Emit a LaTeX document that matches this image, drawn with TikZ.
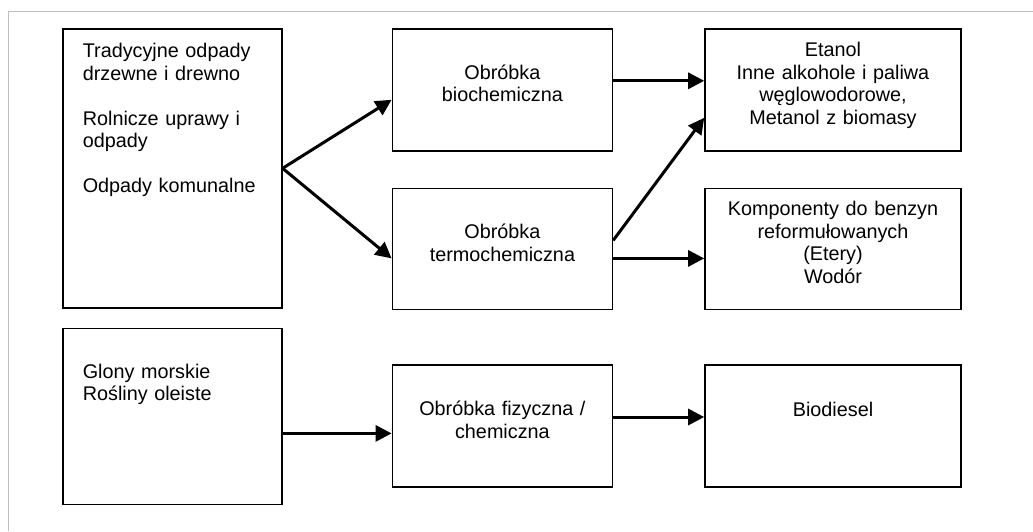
\documentclass[tikz,border=0pt]{standalone}
\usepackage{fontspec}
\setmainfont{Liberation Sans}
\usetikzlibrary{positioning,arrows.meta}

\tikzset{
  box/.style={draw, line width=1.6pt, inner xsep=0pt, inner ysep=0pt, align=center,
    font=\fontsize{19.8}{22.5}\selectfont},
  srcbox/.style={box, align=left, inner xsep=20pt, text width=179pt},
  midbox/.style={box, text width=220pt},
  outbox/.style={box, text width=256pt},
  flow/.style={line width=3pt, -{Triangle[length=16pt,width=16pt]}}
}

\begin{document}
\begin{tikzpicture}
		\useasboundingbox (0,0) rectangle (1033pt,-531pt);
		\draw[gray!50, line width=1pt] (8pt,-531pt) -- (8pt,-11pt) -- (1033pt,-11pt);
		
		\node[srcbox, text height=28.7pt, text depth=250.3pt, anchor=north west] (src1) at (62pt,-28pt)
		  {Tradycyjne odpady\\drzewne i drewno\\[22.5pt]Rolnicze uprawy i\\odpady\\[22.5pt]Odpady komunalne};
		\node[midbox, text height=50.5pt, text depth=71.5pt, below right=0pt and 109pt of src1.north east] (bio) {Obróbka\\biochemiczna};
		\node[outbox, text height=28pt, text depth=94pt, below right=0pt and 91pt of bio.north east] (fuel1)
		  {Etanol\\Inne alkohole i paliwa\\węglowodorowe,\\Metanol z biomasy};
		\node[midbox, text height=50.5pt, text depth=70.5pt, below=36pt of bio] (thermo) {Obróbka\\termochemiczna};
		\node[outbox, text height=27.3pt, text depth=93.7pt, below=36pt of fuel1] (fuel2)
		  {Komponenty do benzyn\\reformułowanych\\(Etery)\\Wodór};
		\node[srcbox, text height=50pt, text depth=126pt, below=19pt of src1] (src2) {Glony morskie\\Rośliny oleiste};
		\node[midbox, text height=50.5pt, text depth=71.5pt, below=54pt of thermo] (phys) {Obróbka fizyczna /\\chemiczna};
		\node[outbox, text height=51pt, text depth=71pt, below=54pt of fuel2] (diesel) {Biodiesel};
		
		\draw[flow] (src1.east) -- ([yshift=-10pt]bio.west);
		\draw[flow] (src1.east) -- ([yshift=-9.5pt]thermo.west);
		
		\draw[flow] ([yshift=9pt]bio.east) coordinate (b1) -- (b1 -| fuel1.west);
		\draw[flow] ([yshift=8.5pt]thermo.east) -- ([yshift=-28pt]fuel1.west);
		\draw[flow] ([yshift=-9.5pt]thermo.east) coordinate (t1) -- (t1 -| fuel2.west);
		
		\draw[flow] ([yshift=-17pt]src2.east) coordinate (s1) -- (s1 -| phys.west);
		\draw[flow] ([yshift=9pt]phys.east) coordinate (p1) -- (p1 -| diesel.west);
\end{tikzpicture}
\end{document}
